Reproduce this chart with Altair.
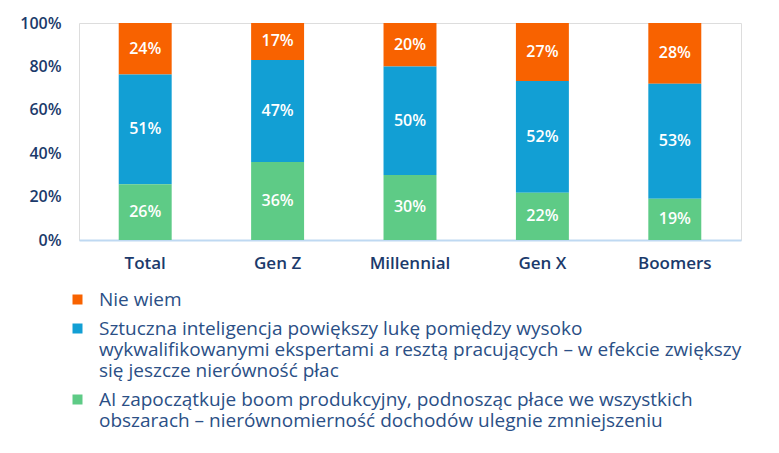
import altair as alt
import pandas as pd

groups = ["Total", "Gen Z", "Millennial", "Gen X", "Boomers"]
answers = [
    "Nie wiem",
    "Sztuczna inteligencja powiększy lukę pomiędzy wysoko|wykwalifikowanymi ekspertami a resztą pracujących – w efekcie zwiększy|się jeszcze nierówność płac",
    "AI zapoczątkuje boom produkcyjny, podnosząc płace we wszystkich|obszarach – nierównomierność dochodów ulegnie zmniejszeniu",
]
colors = ["#F86200", "#129FD4", "#5ECB86"]
stack_rank = [2, 1, 0]  # green at the bottom, orange on top

nie_wiem = [24, 17, 20, 27, 28]
wieksza_luka = [51, 47, 50, 52, 53]
boom = [26, 36, 30, 22, 19]

rows = []
for i, g in enumerate(groups):
    for a, vals, r in zip(answers, [nie_wiem, wieksza_luka, boom], stack_rank):
        rows.append({"group": g, "answer": a, "value": vals[i], "rank": r})
df = pd.DataFrame(rows)

FONT = "Open Sans"
NAVY = "#1B3A6B"

base = alt.Chart(df).transform_stack(
    stack="value", groupby=["group"], as_=["y0", "y1"],
    offset="normalize", sort=[alt.SortField("rank", order="ascending")],
).transform_calculate(mid="(datum.y0 + datum.y1) / 2", label="datum.value + '%'")

x_enc = alt.X(
    "group:N", sort=groups, title=None,
    scale=alt.Scale(paddingInner=0.6, paddingOuter=0.3),
    axis=alt.Axis(labelAngle=0, ticks=False, domainColor="#BFD9F2", domainWidth=2,
                  labelFont=FONT, labelFontSize=17, labelFontWeight=600,
                  labelColor=NAVY, labelPadding=15),
)

bars = base.mark_bar().encode(
    x=x_enc,
    y=alt.Y("y0:Q", title=None, scale=alt.Scale(domain=[0, 1], nice=False),
            axis=alt.Axis(format=".0%", values=[0, 0.2, 0.4, 0.6, 0.8, 1.0],
                          domain=False, ticks=False, grid=False,
                          labelFont=FONT, labelFontSize=16, labelFontWeight=600,
                          labelColor=NAVY, labelPadding=18)),
    y2="y1:Q",
    color=alt.Color(
        "answer:N", scale=alt.Scale(domain=answers, range=colors), title=None,
        legend=alt.Legend(
            orient="none", legendX=-11, legendY=267, direction="vertical",
            symbolType="square", symbolSize=100, symbolStrokeWidth=0,
            labelExpr="split(datum.label, '|')", labelLimit=900,
            labelFont=FONT, labelFontSize=19, labelColor="#2B4F86",
            labelOffset=12, rowPadding=9,
        ),
    ),
)

labels = base.mark_text(color="white", font=FONT, fontSize=16, fontWeight=600).encode(
    x=alt.X("group:N", sort=groups),
    y=alt.Y("mid:Q"),
    text="label:N",
)

chart = alt.layer(bars, labels).properties(
    width=662, height=217,
    autosize=alt.AutoSizeParams(type="none"),
    padding={"left": 79, "top": 23, "right": 38, "bottom": 213},
).configure_view(stroke=None).configure(background="white")

chart.save("out.html", embed_options={"renderer": "svg", "actions": False})
